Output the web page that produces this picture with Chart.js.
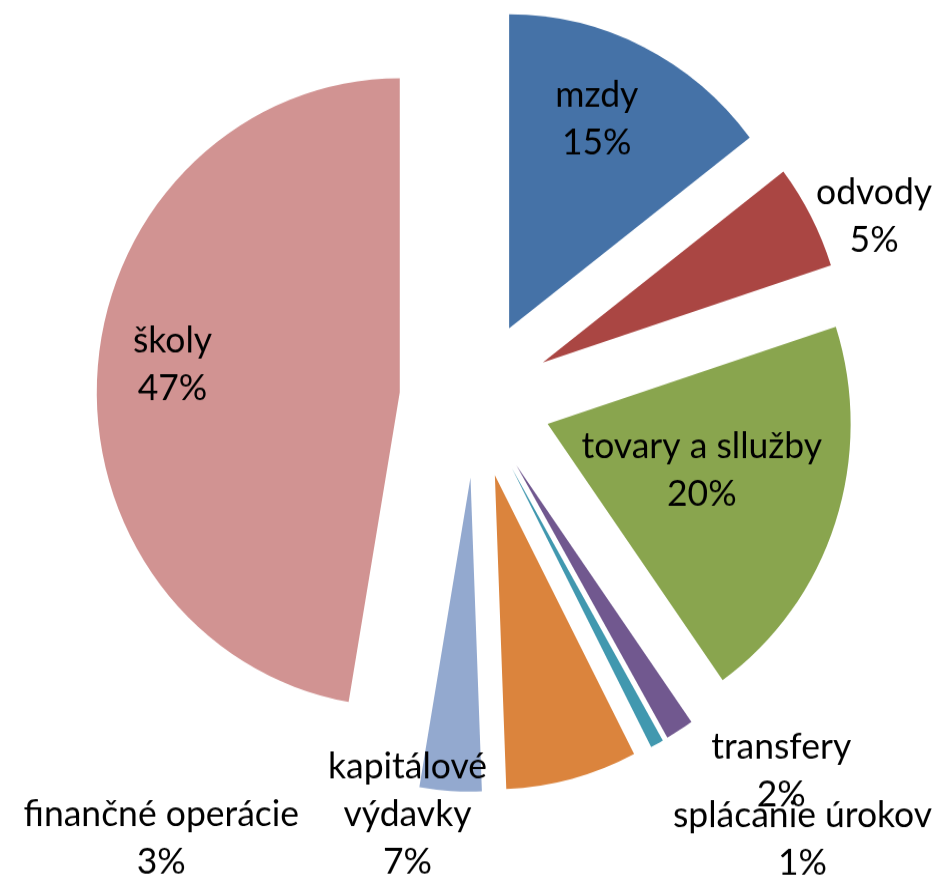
<!DOCTYPE html>
<html><head><meta charset="utf-8">
<script src="https://cdn.jsdelivr.net/npm/chart.js@4"></script>
<style>
html{margin:0;padding:0;background:#fff;overflow:hidden;height:882px;}
body{margin:0;padding:0;background:#fff;height:882px;}
#wrap{width:947px;height:851px;transform:scaleY(1.0364);transform-origin:0 0;}
</style></head><body>
<div id="wrap"><canvas id="c" width="947" height="851"></canvas></div>
<script>
// ---- data ----
const categories = ['mzdy', 'odvody', 'tovary a sllužby', 'transfery', 'splácanie úrokov', 'kapitálové výdavky', 'finančné operácie', 'školy'];
const shares = [14.6, 5.4, 20.2, 1.5, 0.7, 7.0, 3.3, 47.3];
const sliceColors = ['#4572A7', '#AA4643', '#89A54E', '#71588F', '#4198AF', '#DB843D', '#93A9CF', '#D19392'];

// ---- label layout (relative to each slice's bisector) ----
const labelShiftDeg = [-2.1, 3.8, -1.6, -7.9, -9.0, 24.4, 32.8, 1.4];
const labelDist = [0.977, 1.439, 0.780, 1.554, 1.768, 1.340, 1.740, 1.006];
const labelBreak = [false, false, false, false, false, true, false, false];

const explode = {
  id: 'explode',
  beforeDatasetDraw(chart, args, opts) {
    const ctx = chart.ctx;
    args.meta.data.forEach(arc => {
      const mid = (arc.startAngle + arc.endAngle) / 2;
      ctx.save();
      ctx.translate(Math.cos(mid) * opts.distance, Math.sin(mid) * opts.distance);
      arc.draw(ctx);
      ctx.restore();
    });
    return false;
  }
};

const sliceLabels = {
  id: 'sliceLabels',
  afterDatasetsDraw(chart, args, opts) {
    const ctx = chart.ctx;
    const meta = chart.getDatasetMeta(0);
    const data = chart.data.datasets[0].data;
    const total = data.reduce((a, b) => a + b, 0);
    ctx.save();
    ctx.font = opts.size + 'px ' + opts.family;
    ctx.fillStyle = opts.color;
    ctx.textAlign = 'center';
    ctx.textBaseline = 'middle';
    meta.data.forEach((arc, i) => {
      const a = (arc.startAngle + arc.endAngle) / 2 + labelShiftDeg[i] * Math.PI / 180;
      const d = labelDist[i] * arc.outerRadius;
      const x = arc.x + Math.cos(a) * d;
      const y = arc.y + Math.sin(a) * d;
      const name = chart.data.labels[i];
      let lines = labelBreak[i] ? name.split(' ') : [name];
      lines = lines.concat([Math.round(data[i] / total * 100) + '%']);
      const y0 = y - (lines.length - 1) * opts.lineHeight / 2;
      lines.forEach((t, k) => ctx.fillText(t, x, y0 + k * opts.lineHeight));
    });
    ctx.restore();
  }
};

new Chart(document.getElementById('c'), {
  type: 'pie',
  data: {
    labels: categories,
    datasets: [{
      data: shares,
      backgroundColor: sliceColors,
      borderWidth: 0,
      offset: 0,
      radius: 303
    }]
  },
  options: {
    responsive: false,
    animation: false,
    layout: { padding: { left: 4, right: 0, top: 0, bottom: 81 } },
    plugins: {
      legend: { display: false },
      tooltip: { enabled: false },
      explode: { distance: 76 },
      sliceLabels: { size: 35.5, family: 'Lato', color: '#000', lineHeight: 46 }
    }
  },
  plugins: [explode, sliceLabels]
});
</script>
</body></html>
